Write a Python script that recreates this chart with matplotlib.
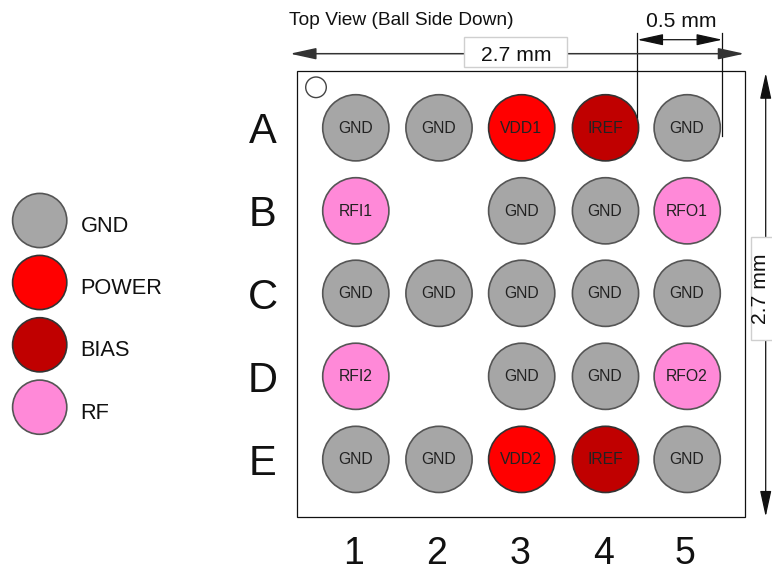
import matplotlib
matplotlib.use("Agg")
import matplotlib.pyplot as plt
from matplotlib.patches import Circle, Rectangle

plt.rcParams['font.family'] = ['Liberation Sans', 'DejaVu Sans']

row_names = ['A', 'B', 'C', 'D', 'E']
col_names = ['1', '2', '3', '4', '5']
pins = [
    ['GND', 'GND', 'VDD1', 'IREF', 'GND'],
    ['RFI1', '', 'GND', 'GND', 'RFO1'],
    ['GND', 'GND', 'GND', 'GND', 'GND'],
    ['RFI2', '', 'GND', 'GND', 'RFO2'],
    ['GND', 'GND', 'VDD2', 'IREF', 'GND'],
]
groups = ['GND', 'POWER', 'BIAS', 'RF']
group_colors = ['#A6A6A6', '#FF0000', '#C00000', '#FF89D8']
pin_group = {'GND': 'GND', 'VDD1': 'POWER', 'VDD2': 'POWER', 'IREF': 'BIAS',
             'RFI1': 'RF', 'RFI2': 'RF', 'RFO1': 'RF', 'RFO2': 'RF'}
col_x = [355.8, 439, 521.7, 605.5, 687.2]
row_y = [127.8, 210.8, 293.3, 376.3, 459.4]
legend_y = [220.5, 282.5, 344.8, 407.2]

fig = plt.figure(figsize=(7.72, 5.72), dpi=100)
ax = fig.add_axes([0, 0, 1, 1])
ax.set_xlim(0, 772)
ax.set_ylim(572, 0)
ax.axis('off')
color_of = dict(zip(groups, group_colors))
edge_of = {'GND': '#555555', 'RF': '#555555', 'POWER': '#333333', 'BIAS': '#333333'}

ax.add_patch(Rectangle((297.3, 70.7), 447.2, 446.3, fc='white', ec='#111111', lw=0.9, zorder=1))
ax.add_patch(Circle((316, 87.3), 10.3, fc='white', ec='#444444', lw=1.0, zorder=2))

for r, row in enumerate(pins):
    for c, name in enumerate(row):
        if not name:
            continue
        g = pin_group[name]
        ax.add_patch(Circle((col_x[c], row_y[r]), 33.1, fc=color_of[g], ec=edge_of[g],
                            lw=1.2, zorder=2))
        ax.text(col_x[c] - 0.5, row_y[r] + 0.5, name, ha='center', va='center', fontsize=11.3,
                color='#222222', zorder=3)

for y, name in zip(row_y, row_names):
    ax.text(263, y + 15.5, name, ha='center', va='baseline', fontsize=30, color='#111111')
for x, name in zip(col_x, col_names):
    ax.text(x - 2, 564, name, ha='center', va='baseline', fontsize=27, color='#111111')

for y, g in zip(legend_y, groups):
    ax.add_patch(Circle((39.7, y), 27.1, fc=color_of[g], ec=edge_of[g], lw=1.2, zorder=2))
    ax.text(80.5, y + 11.5, g, ha='left', va='baseline', fontsize=15.7, color='#111111')

ax.text(289, 25, 'Top View (Ball Side Down)', ha='left', va='baseline', fontsize=13.8, color='#111111')


def dim(p0, p1, hl, hw, color, lw):
    ax.annotate('', xy=p1, xytext=p0, zorder=5,
                arrowprops=dict(arrowstyle=f'<|-|>,head_length={hl},head_width={hw}',
                                mutation_scale=10, lw=lw, color=color,
                                shrinkA=0, shrinkB=0))


dim((290, 53.7), (744.3, 53.7), 1.6, 0.35, '#333333', 1.1)
dim((637.3, 39.7), (722.3, 39.7), 1.6, 0.35, '#111111', 0.9)
dim((765.7, 73), (765.7, 516.7), 1.6, 0.35, '#111111', 0.9)
ax.plot([637.3, 637.3], [33, 117], color='#111111', lw=0.9, zorder=4)
ax.plot([722.3, 722.3], [33, 136], color='#111111', lw=0.9, zorder=4)

ax.add_patch(Rectangle((464.3, 36.7), 103, 30.6, fc='white', ec='#CFCFCF', lw=1.0, zorder=6))
ax.text(516, 61, '2.7 mm', ha='center', va='baseline', fontsize=15.2, color='#111111', zorder=7)
ax.text(681.5, 27, '0.5 mm', ha='center', va='baseline', fontsize=15.2, color='#111111', zorder=7)
ax.add_patch(Rectangle((750.7, 237.3), 40, 102.7, fc='white', ec='#CFCFCF', lw=1.0, zorder=6))
ax.text(760, 289, '2.7 mm', ha='center', va='center', rotation=90, fontsize=15.2,
        color='#111111', zorder=7)

fig.savefig('out.png', dpi=100)
